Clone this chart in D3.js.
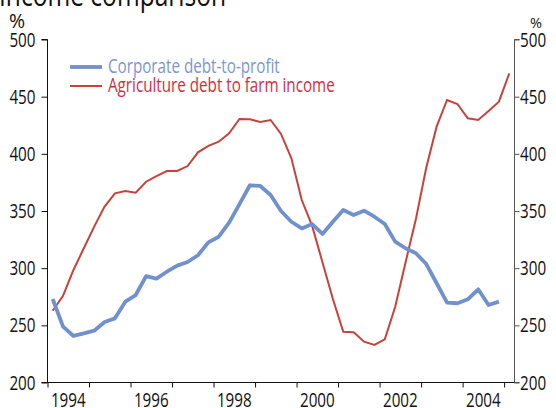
<!DOCTYPE html>
<html><head><meta charset="utf-8">
<script src="https://cdn.jsdelivr.net/npm/d3@7"></script>
<style>
body{margin:0;background:#fff;}
text{font-family:"Open Sans",sans-serif;}
</style></head>
<body><svg id="c" width="556" height="408"></svg>
<script>
const title = "Income comparison";
const seriesNames = ["Corporate debt-to-profit", "Agriculture debt to farm income"];
const corporate = [273, 248.8, 240.7, 243, 245.3, 252.9, 256.1, 270.7, 276.5, 293.1, 290.8, 296.9,
  302.2, 305.4, 311.3, 322.6, 327.5, 339.8, 356, 372.5, 371.9, 364, 350, 340.6,
  334.8, 338.6, 329.9, 340.6, 350.9, 346.5, 350.3, 345, 338.6, 323.2, 317.4, 313,
  303.6, 286.8, 269.8, 269.3, 272.8, 281.5, 267.8, 270.7];
const agriculture = [262.8, 275.9, 298.4, 317.4, 336.3, 353.8, 365.5, 367.5, 366, 375.6, 380.6, 385,
  385, 389.3, 401.3, 406.9, 410.6, 418, 430.5, 430.2, 427.9, 429.6, 417.4, 396.1,
  359.6, 337, 305, 273, 244.4, 243.9, 235.7, 232.8, 237.8, 266, 305, 343,
  388, 424, 447.1, 443.6, 431.1, 429.6, 437.5, 445.6, 470.4];
const startYear = 1994;
const yearLabels = [1994, 1996, 1998, 2000, 2002, 2004];
const yearTicks = [1994, 1995, 1996, 1997, 1998, 1999, 2000, 2001, 2002, 2003, 2004, 2005];
const yTicks = [200, 250, 300, 350, 400, 450, 500];

const svg = d3.select("#c");
const L = 47.5, R = 514.5, T = 39.5, B = 382.5;
const SX = 0.78, FS = 19.5;
const x = d3.scaleLinear().domain([1994, 2005.25]).range([L, R]);
const y = d3.scaleLinear().domain([200, 500]).range([B, T]);
const qx = i => startYear + (i + 0.5) / 4;

const blue = "#7091cd", red = "#c8423a";

function label(g, tx, ty, str, opts = {}) {
  return g.append("text")
    .attr("transform", `translate(${tx},${ty}) scale(${opts.sx ?? SX},1)`)
    .attr("font-size", opts.fs ?? FS)
    .attr("text-anchor", opts.anchor ?? "start")
    .attr("fill", opts.fill ?? "#111")
    .text(str);
}

// title and units
label(svg, -1, 5.5, title, {fs: 31.5});
label(svg, 9, 27.5, "%", {fs: 19.5, sx: 1});
label(svg, 542, 27.5, "%", {fs: 14.5, sx: 1, anchor: "end"});

// left axis
const gl = svg.append("g").attr("transform", `translate(${L},0)`)
  .call(d3.axisLeft(y).tickValues(yTicks).tickSize(6).tickFormat(""));
gl.selectAll("line,path").attr("stroke", "#111");
gl.select(".domain").attr("d", `M-6,${B}H0V${T}H-6`);
yTicks.forEach(v => label(svg, 35.5, y(v) + 7, d3.format("d")(v), {anchor: "end"}));

// right axis
const gr = svg.append("g").attr("transform", `translate(${R},0)`)
  .call(d3.axisRight(y).tickValues(yTicks).tickSize(5).tickFormat(""));
gr.selectAll("line,path").attr("stroke", "#555");
gr.select(".domain").attr("d", `M5,${B}H0V${T}H5`);
yTicks.forEach(v => label(svg, 520, y(v) + 7, d3.format("d")(v)));

// bottom axis
const gb = svg.append("g").attr("transform", `translate(0,${B})`)
  .call(d3.axisBottom(x).tickValues(yearTicks).tickSize(5).tickFormat(""));
gb.selectAll("line,path").attr("stroke", "#111");
gb.select(".domain").attr("d", `M${L},0H${R}`);
yearLabels.forEach(d => label(svg, x(d + 0.5), 406.5, String(d), {anchor: "middle"}));

// lines
const line = d3.line().x((d, i) => x(qx(i))).y(d => y(d));
svg.append("path").datum(agriculture).attr("d", line).attr("fill", "none")
  .attr("stroke", red).attr("stroke-width", 2);
svg.append("path").datum(corporate).attr("d", line).attr("fill", "none")
  .attr("stroke", blue).attr("stroke-width", 3.8).attr("stroke-linejoin", "round");

// legend
const leg = svg.append("g");
const lg = [{n: seriesNames[0], c: blue, tc: "#7b96d2", w: 3.8, yy: 67},
            {n: seriesNames[1], c: red, tc: "#d42d3f", w: 2, yy: 86}];
lg.forEach(d => {
  leg.append("line").attr("x1", 70).attr("x2", 102).attr("y1", d.yy).attr("y2", d.yy)
    .attr("stroke", d.c).attr("stroke-width", d.w);
  label(leg, 108, d.yy + 5.5, d.n, {fill: d.tc});
});
</script></body></html>
